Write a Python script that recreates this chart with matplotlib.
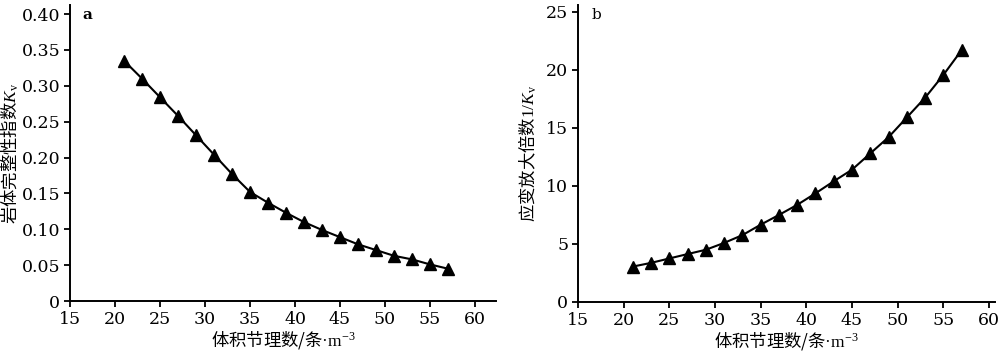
import matplotlib
matplotlib.use("Agg")
import matplotlib.pyplot as plt
from matplotlib.ticker import FuncFormatter

plt.rcParams['mathtext.fontset'] = 'custom'
plt.rcParams['mathtext.rm'] = 'Liberation Serif'
plt.rcParams['mathtext.it'] = 'Liberation Serif:italic'

# data
joints = [21, 23, 25, 27, 29, 31, 33, 35, 37, 39, 41, 43, 45, 47, 49, 51, 53, 55, 57]
kv = [0.335, 0.310, 0.284, 0.258, 0.231, 0.204, 0.177, 0.152, 0.137, 0.123,
      0.110, 0.099, 0.089, 0.079, 0.071, 0.063, 0.058, 0.051, 0.045]
amp = [3.05, 3.37, 3.75, 4.13, 4.5, 5.09, 5.76, 6.66, 7.5, 8.37,
       9.36, 10.4, 11.4, 12.8, 14.2, 15.9, 17.6, 19.56, 21.7]

xticks = [15, 20, 25, 30, 35, 40, 45, 50, 55, 60]
yticks_a = [0, 0.05, 0.10, 0.15, 0.20, 0.25, 0.30, 0.35, 0.40]
yticks_b = [0, 5, 10, 15, 20, 25]

cjk = 'Noto Sans CJK SC'
tickfont = 'DejaVu Serif'
xlab = '体积节理数/条$\\mathrm{\u00b7m}^{-3}$'

fig = plt.figure(figsize=(10, 3.54), dpi=100)
axa = fig.add_axes([0.070, 0.1497, 0.426, 0.836])
axb = fig.add_axes([0.578, 0.147, 0.417, 0.839])


def style(ax):
    for s in ['top', 'right']:
        ax.spines[s].set_visible(False)
    for s in ['left', 'bottom']:
        ax.spines[s].set_linewidth(1.4)
    ax.tick_params(direction='out', length=4, width=1.3, labelsize=12.5, pad=3)
    for lab in ax.get_xticklabels() + ax.get_yticklabels():
        lab.set_fontfamily(tickfont)


axa.plot(joints, kv, color='black', lw=1.5, marker='^', markersize=8.5)
axa.set_xlim(15, 62.33)
axa.set_ylim(0, 0.4125)
axa.set_xticks(xticks)
axa.set_yticks(yticks_a)
axa.yaxis.set_major_formatter(FuncFormatter(lambda v, p: '0' if v == 0 else '%.2f' % v))
style(axa)
axa.set_xlabel(xlab, fontfamily=cjk, fontsize=12.5)
axa.set_ylabel('岩体完整性指数$K_\\mathrm{v}$', fontfamily=cjk, fontsize=12.5)
axa.xaxis.set_label_coords(0.5, -0.095)
axa.yaxis.set_label_coords(-0.115, 0.5)
axa.text(0.028, 0.965, 'a', transform=axa.transAxes, fontfamily=tickfont,
         fontweight='bold', fontsize=11, va='center', ha='left')

axb.plot(joints, amp, color='black', lw=1.5, marker='^', markersize=8.5)
axb.set_xlim(15, 60.66)
axb.set_ylim(0, 25.6)
axb.set_xticks(xticks)
axb.set_yticks(yticks_b)
style(axb)
axb.set_xlabel(xlab, fontfamily=cjk, fontsize=12.5)
axb.set_ylabel('应变放大倍数$1/K_\\mathrm{v}$', fontfamily=cjk, fontsize=12.5)
axb.xaxis.set_label_coords(0.5, -0.095)
axb.yaxis.set_label_coords(-0.094, 0.5)
axb.text(0.033, 0.965, 'b', transform=axb.transAxes, fontfamily=tickfont,
         fontsize=11, va='center', ha='left')

fig.savefig('out.png', dpi=100)
